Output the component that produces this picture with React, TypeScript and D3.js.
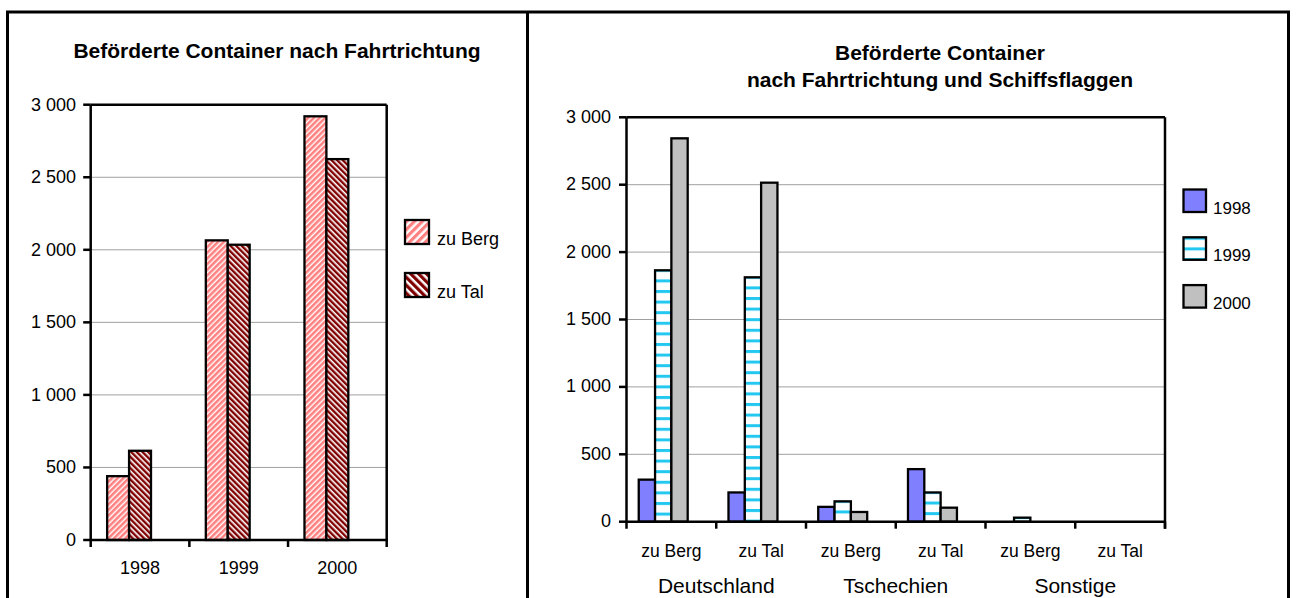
import React from 'react';
import * as d3 from 'd3';

// ---------- data ----------
const leftYears = ['1998', '1999', '2000'];
const leftSeries = ['zu Berg', 'zu Tal'];
const zuBerg = [440, 2065, 2920];
const zuTal = [615, 2035, 2625];
const yTicks = [0, 500, 1000, 1500, 2000, 2500, 3000];

const rightSub = ['zu Berg', 'zu Tal', 'zu Berg', 'zu Tal', 'zu Berg', 'zu Tal'];
const rightGroups = ['Deutschland', 'Tschechien', 'Sonstige'];
const rightSeries = ['1998', '1999', '2000'];
const v1998 = [312, 217, 110, 390, 0, 0];
const v1999 = [1865, 1813, 151, 217, 30, 0];
const v2000 = [2844, 2515, 72, 104, 0, 0];

const titleLeft = 'Beförderte Container nach Fahrtrichtung';
const titleRight = ['Beförderte Container', 'nach Fahrtrichtung und Schiffsflaggen'];

const FONT = '"Liberation Sans", Arial, Helvetica, sans-serif';
const fmt = d3.formatLocale({ decimal: ',', thousands: ' ', grouping: [3], currency: ['', ''] }).format(',');

export default function App() {
  // ----- left chart scales -----
  const xL = d3.scaleBand<string>().domain(leftYears).range([90.7, 386.7]).paddingInner(0).paddingOuter(0);
  const yL = d3.scaleLinear().domain([0, 3000]).range([540, 104.7]);
  const slotsL = 3; // Excel layout with one empty slot, gap 150%
  const bwL = xL.bandwidth() / (slotsL + 1.5);
  const leftVals = [zuBerg, zuTal];
  const leftFill = ['url(#pBerg)', 'url(#pTal)'];
  const leftLegFill = ['url(#pBergL)', 'url(#pTalL)'];

  // ----- right chart scales -----
  const idx = rightSub.map((_, i) => String(i));
  const xR = d3.scaleBand<string>().domain(idx).range([626.5, 1165]).paddingInner(0).paddingOuter(0);
  const yR = d3.scaleLinear().domain([0, 3000]).range([521.7, 117.3]);
  const slotsR = 4;
  const bwR = xR.bandwidth() / (slotsR + 1.5);
  const rightVals = [v1998, v1999, v2000];
  const rightColors = ['#8080FF', null, '#C0C0C0'];
  const cyan = '#22C8F0';

  const gridL = yTicks.filter((t) => t > 0 && t < 3000);

  return (
    <svg width={1296} height={598} style={{ position: 'absolute', left: 0, top: 0, background: '#fff' }} fontFamily={FONT}>
      <defs>
        <pattern id="pBerg" patternUnits="userSpaceOnUse" width={4} height={4} patternTransform="rotate(45)">
          <rect width={4} height={4} fill="#fff" />
          <rect width={2.6} height={4} fill="#FF8080" />
        </pattern>
        <pattern id="pTal" patternUnits="userSpaceOnUse" width={4} height={4} patternTransform="rotate(-45)">
          <rect width={4} height={4} fill="#fff" />
          <rect width={2.4} height={4} fill="#800000" />
        </pattern>
        <pattern id="pBergL" patternUnits="userSpaceOnUse" width={5.6} height={5.6} patternTransform="rotate(45)">
          <rect width={5.6} height={5.6} fill="#fff" />
          <rect width={3.2} height={5.6} fill="#FF8080" />
        </pattern>
        <pattern id="pTalL" patternUnits="userSpaceOnUse" width={5.6} height={5.6} patternTransform="rotate(-45)">
          <rect width={5.6} height={5.6} fill="#fff" />
          <rect width={3.2} height={5.6} fill="#800000" />
        </pattern>
        {rightSub.map((_, ci) => {
          const top = yR(v1999[ci]);
          return (
            <pattern key={ci} id={`pCy${ci}`} patternUnits="userSpaceOnUse" width={20} height={10.6} patternTransform={`translate(0,${top - 1.5})`}>
              <rect width={20} height={10.6} fill="#fff" />
              <rect width={20} height={3} fill={cyan} />
            </pattern>
          );
        })}
        <pattern id="pCyLeg" patternUnits="userSpaceOnUse" width={20} height={10.6} patternTransform="translate(0,236.8)">
          <rect width={20} height={10.6} fill="#fff" />
          <rect width={20} height={3} fill={cyan} />
        </pattern>
      </defs>

      {/* panel borders */}
      <g stroke="#000" strokeWidth={3} fill="none">
        <line x1={7.5} y1={12} x2={7.5} y2={600} />
        <line x1={6} y1={12} x2={1290} y2={12} />
        <line x1={527.5} y1={12} x2={527.5} y2={600} />
        <line x1={1288.5} y1={12} x2={1288.5} y2={600} />
      </g>

      {/* ================= LEFT CHART ================= */}
      <text x={277} y={58.3} textAnchor="middle" fontSize={21} fontWeight="bold">{titleLeft}</text>

      {gridL.map((t) => (
        <line key={t} x1={xL.range()[0]} x2={xL.range()[1]} y1={yL(t)} y2={yL(t)} stroke="#A0A0A0" strokeWidth={1} />
      ))}

      {leftYears.map((yr, ci) => (
        <g key={yr}>
          {leftVals.map((vals, si) => {
            const x = (xL(yr) as number) + 0.75 * bwL + si * bwL;
            return (
              <rect key={si} x={x} y={yL(vals[ci])} width={bwL} height={yL(0) - yL(vals[ci])}
                fill={leftFill[si]} stroke="#000" strokeWidth={2.3} />
            );
          })}
        </g>
      ))}

      {/* plot border & axes */}
      <g stroke="#000" strokeWidth={2.5} fill="none">
        <line x1={xL.range()[0]} x2={xL.range()[1]} y1={yL(3000)} y2={yL(3000)} />
        <line x1={xL.range()[1]} x2={xL.range()[1]} y1={yL(3000)} y2={yL(0)} />
        <line x1={xL.range()[0]} x2={xL.range()[0]} y1={yL(3000)} y2={yL(0) + 7} />
        <line x1={xL.range()[0]} x2={xL.range()[1] + 1.2} y1={yL(0)} y2={yL(0)} />
        {yTicks.map((t) => (
          <line key={t} x1={xL.range()[0] - 7.5} x2={xL.range()[0]} y1={yL(t)} y2={yL(t)} />
        ))}
        {leftYears.map((yr) => (
          <line key={yr} x1={(xL(yr) as number) + xL.bandwidth()} x2={(xL(yr) as number) + xL.bandwidth()} y1={yL(0)} y2={yL(0) + 7} />
        ))}
      </g>

      {yTicks.map((t) => (
        <text key={t} x={76} y={yL(t) + 6} textAnchor="end" fontSize={18}>{fmt(t)}</text>
      ))}
      {leftYears.map((yr) => (
        <text key={yr} x={(xL(yr) as number) + xL.bandwidth() / 2} y={574} textAnchor="middle" fontSize={18}>{yr}</text>
      ))}

      {/* left legend */}
      {leftSeries.map((s, i) => {
        const y0 = 220 + i * 53;
        return (
          <g key={s}>
            <rect x={405} y={y0} width={24} height={24} fill={leftLegFill[i]} stroke="#000" strokeWidth={2.3} />
            <text x={437} y={y0 + 25} fontSize={18}>{s}</text>
          </g>
        );
      })}

      {/* ================= RIGHT CHART ================= */}
      <text x={940} y={60} textAnchor="middle" fontSize={21} fontWeight="bold">{titleRight[0]}</text>
      <text x={940} y={87.3} textAnchor="middle" fontSize={21} fontWeight="bold">{titleRight[1]}</text>

      {gridL.map((t) => (
        <line key={t} x1={xR.range()[0]} x2={xR.range()[1]} y1={yR(t)} y2={yR(t)} stroke="#A0A0A0" strokeWidth={1} />
      ))}

      {idx.map((k, ci) => (
        <g key={k}>
          {rightVals.map((vals, si) => {
            if (vals[ci] <= 0) return null;
            const x = (xR(k) as number) + 0.75 * bwR + si * bwR;
            const fill = si === 1 ? `url(#pCy${ci})` : (rightColors[si] as string);
            return (
              <rect key={si} x={x} y={yR(vals[ci])} width={bwR} height={yR(0) - yR(vals[ci])}
                fill={fill} stroke="#000" strokeWidth={2.3} />
            );
          })}
        </g>
      ))}

      <g stroke="#000" strokeWidth={2.5} fill="none">
        <line x1={xR.range()[0]} x2={xR.range()[1]} y1={yR(3000)} y2={yR(3000)} />
        <line x1={xR.range()[1]} x2={xR.range()[1]} y1={yR(3000)} y2={yR(0) + 7} />
        <line x1={xR.range()[0]} x2={xR.range()[0]} y1={yR(3000)} y2={yR(0) + 7} />
        <line x1={xR.range()[0]} x2={xR.range()[1]} y1={yR(0)} y2={yR(0)} />
        {yTicks.map((t) => (
          <line key={t} x1={xR.range()[0] - 7.5} x2={xR.range()[0]} y1={yR(t)} y2={yR(t)} />
        ))}
        {idx.map((k) => (
          <line key={k} x1={(xR(k) as number) + xR.bandwidth()} x2={(xR(k) as number) + xR.bandwidth()} y1={yR(0)} y2={yR(0) + 7} />
        ))}
      </g>

      {yTicks.map((t) => (
        <text key={t} x={611} y={yR(t) + 5.5} textAnchor="end" fontSize={18}>{fmt(t)}</text>
      ))}
      {idx.map((k, i) => (
        <text key={k} x={(xR(k) as number) + xR.bandwidth() / 2} y={556.7} textAnchor="middle" fontSize={17.5}>{rightSub[i]}</text>
      ))}
      {rightGroups.map((g, gi) => (
        <text key={g} x={(xR(String(gi * 2)) as number) + xR.bandwidth()} y={593.3} textAnchor="middle" fontSize={21}>{g}</text>
      ))}

      {/* right legend */}
      {rightSeries.map((s, i) => {
        const y0 = 189.5 + i * 47.8;
        const fill = i === 1 ? 'url(#pCyLeg)' : (rightColors[i] as string);
        return (
          <g key={s}>
            <rect x={1183.5} y={y0} width={22.5} height={22.5} fill={fill} stroke="#000" strokeWidth={2.3} />
            <text x={1213} y={y0 + 24} fontSize={17}>{s}</text>
          </g>
        );
      })}
    </svg>
  );
}
